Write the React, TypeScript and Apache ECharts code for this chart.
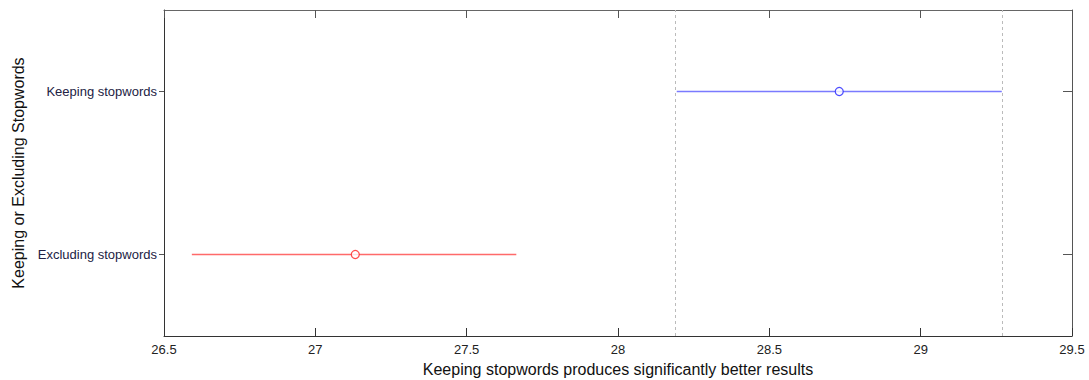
import React, { useEffect, useRef } from "react";
import * as echarts from "echarts";

const categories = ["Excluding stopwords", "Keeping stopwords"];
const lowerBounds = [26.592, 28.194];
const means = [27.132, 28.731];
const upperBounds = [27.664, 29.268];
const lineColors = ["#ff6a6a", "#7a7aff"];
const markerColors = ["#ff2020", "#2020ff"];
const xTicks = { min: 26.5, max: 29.5, interval: 0.5 };
const xTitle = "Keeping stopwords produces significantly better results";
const yTitle = "Keeping or Excluding Stopwords";

export default function App() {
  const ref = useRef<HTMLDivElement>(null);
  useEffect(() => {
    if (!ref.current) return;
    const chart = echarts.init(ref.current, undefined, { renderer: "svg" });
    const font = "Liberation Sans, Arial, sans-serif";
    const axisColor = "#333333";
    const series: any[] = [];
    categories.forEach((c, i) => {
      series.push({
        type: "line",
        data: [
          [lowerBounds[i], c],
          [upperBounds[i], c],
        ],
        symbol: "none",
        lineStyle: { color: lineColors[i], width: 1.6 },
        silent: true,
        z: 3,
      });
      series.push({
        type: "scatter",
        data: [[means[i], c]],
        symbol: "circle",
        symbolSize: 8,
        itemStyle: { color: "#ffffff", borderColor: markerColors[i], borderWidth: 1.2 },
        z: 4,
      });
    });
    series.push({
      type: "line",
      data: [],
      markLine: {
        silent: true,
        symbol: "none",
        label: { show: false },
        lineStyle: { color: "#bbbbbb", type: [3, 3], width: 1 },
        data: [{ xAxis: lowerBounds[1] }, { xAxis: upperBounds[1] }],
      },
    });
    chart.setOption({
      animation: false,
      grid: { left: 164, right: 17, top: 10, bottom: 44, containLabel: false, outerBoundsMode: "none" },
      xAxis: [
        {
          type: "value",
          min: xTicks.min,
          max: xTicks.max,
          interval: xTicks.interval,
          position: "bottom",
          name: xTitle,
          nameLocation: "middle",
          nameGap: 25,
          nameTextStyle: { fontFamily: font, fontSize: 16, color: "#111111" },
          axisLine: { show: true, lineStyle: { color: axisColor, width: 1 } },
          axisTick: { show: true, inside: true, length: 8, lineStyle: { color: axisColor } },
          axisLabel: { fontFamily: font, fontSize: 13, color: "#222222", margin: 7, formatter: (v: number) => String(v) },
          splitLine: { show: false },
        },
        {
          type: "value",
          min: xTicks.min,
          max: xTicks.max,
          interval: xTicks.interval,
          position: "top",
          axisLine: { show: true, lineStyle: { color: "#666666", width: 1 } },
          axisTick: { show: true, inside: true, length: 8, lineStyle: { color: "#555555" } },
          axisLabel: { show: false },
          splitLine: { show: false },
        },
      ],
      yAxis: [
        {
          type: "category",
          data: categories,
          position: "left",
          boundaryGap: true,
          name: yTitle,
          nameLocation: "middle",
          nameGap: 138,
          nameRotate: 90,
          nameTextStyle: { fontFamily: font, fontSize: 16, color: "#111111" },
          axisLine: { show: true, lineStyle: { color: axisColor, width: 1 } },
          axisTick: { show: true, alignWithLabel: true, inside: false, length: 5, lineStyle: { color: "#555555" } },
          axisLabel: { fontFamily: font, fontSize: 13, color: "#222244", margin: 7 },
          splitLine: { show: false },
        },
        {
          type: "category",
          data: categories,
          position: "right",
          boundaryGap: true,
          axisLine: { show: true, lineStyle: { color: "#555555", width: 1 } },
          axisTick: { show: true, alignWithLabel: true, inside: true, length: 9, lineStyle: { color: "#555555" } },
          axisLabel: { show: false },
          splitLine: { show: false },
        },
      ],
      series,
    });
    return () => chart.dispose();
  }, []);
  return (
    <div
      ref={ref}
      style={{ position: "fixed", left: 0, top: 0, width: 1089, height: 380, background: "#ffffff" }}
    />
  );
}
